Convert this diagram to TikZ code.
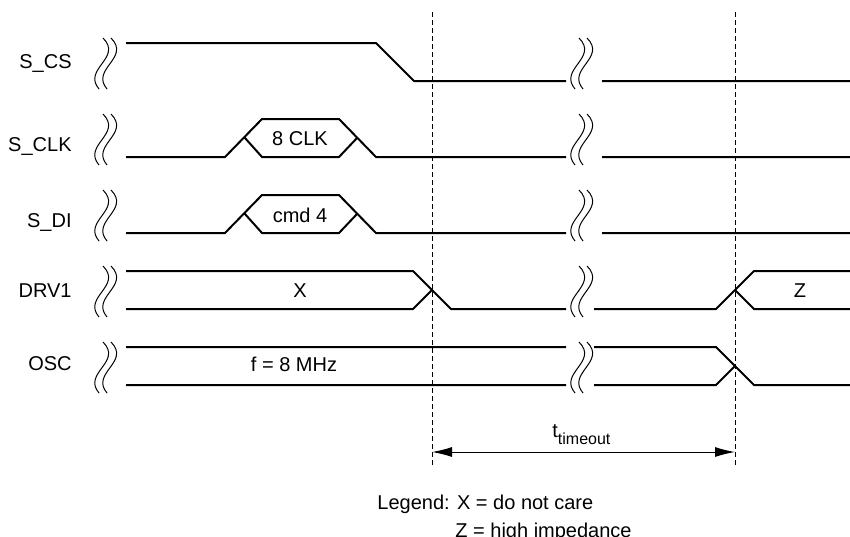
\documentclass[tikz,border=0pt]{standalone}
\usepackage{fontspec}
\setmainfont{Liberation Sans}
\usetikzlibrary{arrows.meta}
\begin{document}
\begin{tikzpicture}[x=0.5pt,y=-0.5pt,
		sig/.style={line width=1pt},
		brk/.style={line width=0.5pt},
		guide/.style={line width=0.5pt,dash pattern=on 2.5pt off 1.5pt},
		lbl/.style={anchor=base east,inner sep=0pt,font=\fontsize{10}{12}\selectfont},
		txt/.style={anchor=base,inner sep=0pt,font=\fontsize{10}{12}\selectfont}]
		\useasboundingbox (0,0) rectangle (850,536);
		\node[lbl](cs)at(72,68){S\_CS};
		\node[lbl](clk)at(72,151){S\_CLK};
		\node[lbl](di)at(72,227){S\_DI};
		\node[lbl](drv)at(72,297){DRV1};
		\node[lbl](osc)at(72,370){OSC};
		\foreach \h/\l in {43/81,119/157,195/233,271/309,347/385}
			\foreach \c in {101,109,577,585}
				\draw[brk](\c+2,\h-5)..controls(\c+22,\h+15)and(\c-19,\l-12)..(\c-2,\l+8);
		\draw[sig](126,43)--(376,43)--(414,81)--(566,81) (602,81)--(850,81);
		\draw[sig](126,157)--(225,157)--(262,119)--(339,119)--(376,157)--(566,157)
			(602,157)--(850,157)
			(245,138)--(262,157)--(339,157)--(357,138);
		\draw[sig](126,233)--(225,233)--(262,195)--(339,195)--(376,233)--(566,233)
			(602,233)--(850,233)
			(245,214)--(262,233)--(339,233)--(357,214);
		\draw[sig](126,271)--(413,271)--(451,309)--(566,309)
			(594,309)--(716,309)--(754,271)--(850,271)
			(126,309)--(413,309)--(432,290)
			(735,290)--(754,309)--(850,309);
		\draw[sig](126,347)--(566,347) (594,347)--(716,347)--(754,385)--(850,385)
			(126,385)--(566,385) (594,385)--(716,385)--(735,366);
		\node[txt](nclk)at(300,145){8 CLK};
		\node[txt](ndi)at(300,222){cmd 4};
		\node[txt](nx)at(300,297){X};
		\node[txt](nz)at(800,297){Z};
		\node[txt](nf)at(294,371){f = 8 MHz};
		\draw[guide](432,12)--(432,467) (735,12)--(735,467);
		\coordinate(ta)at(432,452);
		\coordinate(tb)at(735,452);
		\draw[line width=0.5pt,{Latex[length=10pt,width=5pt]}-{Latex[length=10pt,width=5pt]}](ta)--(tb);
		\node[lbl,anchor=base west](tt)at(552,437){t\raisebox{-3.5pt}{\fontsize{8}{9}\selectfont timeout}};
		\node[lbl,anchor=base west](leg)at(377,509){Legend: X = do not care};
		\node[lbl,anchor=base west](legz)at(455,537){Z = high impedance};
	\end{tikzpicture}
\end{document}
